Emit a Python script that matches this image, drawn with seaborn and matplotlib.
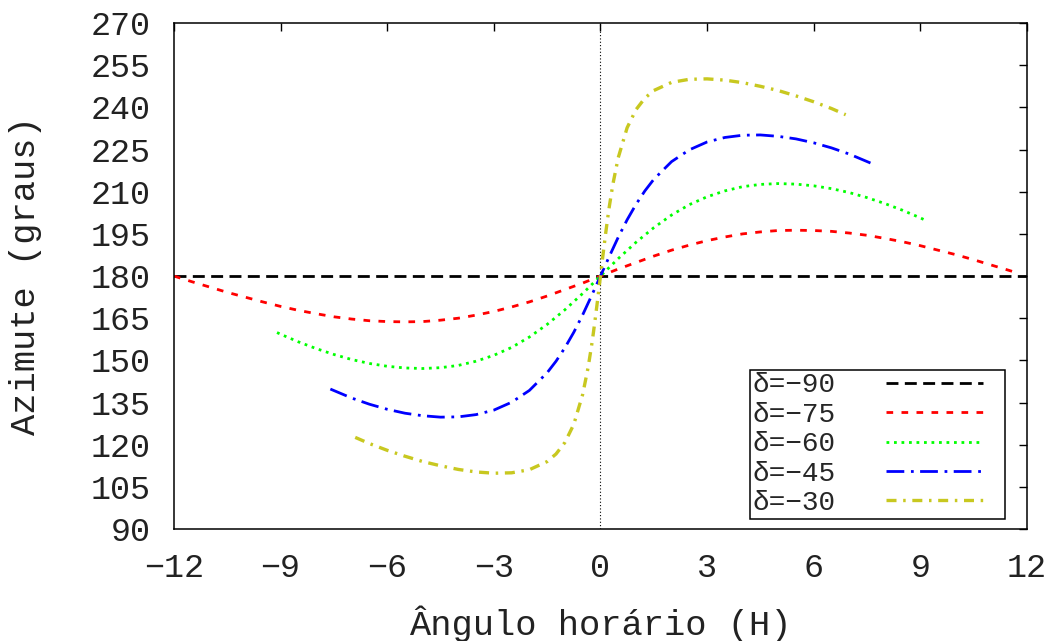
import pandas as pd
import seaborn as sns
import matplotlib.pyplot as plt
from matplotlib.lines import Line2D
from matplotlib.legend_handler import HandlerLine2D

# hour angle (h) and azimuth (degrees) for each declination
h_90 = [-12, 12]
az_90 = [180, 180]

h_75 = [-12, -11.5, -11, -10.5, -10, -9.5, -9, -8.5, -8, -7.5, -7, -6.5, -6, -5.5, -5,
        -4.5, -4, -3.5, -3, -2.5, -2, -1.5, -1, -0.5, 0, 0.5, 1, 1.5, 2, 2.5, 3, 3.5,
        4, 4.5, 5, 5.5, 6, 6.5, 7, 7.5, 8, 8.5, 9, 9.5, 10, 10.5, 11, 11.5, 11.75]
az_75 = [180.0, 178.0, 176.1, 174.2, 172.5, 170.8, 169.2, 167.8, 166.6, 165.5, 164.7,
         164.1, 163.8, 163.7, 163.8, 164.3, 165.0, 166.1, 167.4, 169.0, 170.8, 172.9,
         175.2, 177.5, 180.0, 182.5, 184.8, 187.1, 189.2, 191.0, 192.6, 193.9, 195.0,
         195.7, 196.2, 196.3, 196.2, 195.9, 195.3, 194.5, 193.4, 192.2, 190.8, 189.2,
         187.6, 185.8, 183.9, 182.0, 181.0]

h_60 = [-9.1, -9, -8.5, -8, -7.5, -7, -6.5, -6, -5.5, -5, -4.5, -4, -3.5, -3, -2.5, -2,
        -1.5, -1, -0.5, 0, 0.5, 1, 1.5, 2, 2.5, 3, 3.5, 4, 4.5, 5, 5.5, 6, 6.5, 7, 7.5,
        8, 8.5, 9, 9.1]
az_60 = [159.9, 159.3, 156.6, 154.2, 152.1, 150.3, 148.9, 147.9, 147.3, 147.1, 147.4,
         148.2, 149.7, 151.8, 154.6, 158.3, 162.8, 168.0, 173.8, 180.0, 186.2, 192.0,
         197.2, 201.7, 205.4, 208.2, 210.3, 211.8, 212.6, 212.9, 212.7, 212.1, 211.1,
         209.7, 207.9, 205.8, 203.4, 200.7, 200.1]

h_45 = [-7.6, -7, -6.5, -6, -5.5, -5, -4.5, -4, -3.5, -3, -2.5, -2, -1.5, -1.25, -1,
        -0.75, -0.5, -0.25, -0.1, 0, 0.1, 0.25, 0.5, 0.75, 1, 1.25, 1.5, 2, 2.5, 3, 3.5,
        4, 4.5, 5, 5.5, 6, 6.5, 7, 7.6]
az_45 = [139.8, 136.6, 134.4, 132.6, 131.2, 130.3, 129.8, 129.9, 130.7, 132.3, 135.1,
         139.3, 145.6, 149.7, 154.5, 160.0, 166.2, 173.0, 177.2, 180.0, 182.8, 187.0,
         193.8, 200.0, 205.5, 210.3, 214.4, 220.7, 224.9, 227.7, 229.3, 230.1, 230.2,
         229.7, 228.8, 227.4, 225.6, 223.4, 220.2]

h_30 = [-6.9, -6.5, -6, -5.5, -5, -4.5, -4, -3.5, -3, -2.5, -2, -1.5, -1.25, -1, -0.75,
        -0.5, -0.35, -0.25, -0.2, -0.15, -0.1, -0.05, 0, 0.05, 0.1, 0.15, 0.2, 0.25,
        0.35, 0.5, 0.75, 1, 1.25, 1.5, 2, 2.5, 3, 3.5, 4, 4.5, 5, 5.5, 6, 6.5, 6.9]
az_30 = [122.6, 120.4, 118.0, 115.9, 114.0, 112.5, 111.2, 110.3, 109.85, 110.0, 111.1,
         114.0, 116.7, 120.8, 127.25, 137.9, 147.3, 155.2, 159.7, 164.5, 169.5, 174.7,
         180.0, 185.3, 190.5, 195.5, 200.3, 204.8, 212.7, 222.1, 232.75, 239.2, 243.3,
         246.0, 248.9, 250.0, 250.15, 249.7, 248.8, 247.5, 246.0, 244.1, 242.0, 239.6,
         237.4]

series = [
    ("\u03b4=\u221290", h_90, az_90, "#000000", 2.0, (4.3, 2.3)),
    ("\u03b4=\u221275", h_75, az_75, "#ff0000", 2.0, (2.4, 3.0)),
    ("\u03b4=\u221260", h_60, az_60, "#00ff00", 2.0, (1.0, 1.7)),
    ("\u03b4=\u221245", h_45, az_45, "#0000ff", 2.0, (6.4, 2.4, 1.0, 2.3)),
    ("\u03b4=\u221230", h_30, az_30, "#c8c820", 2.4, (3.0, 2.0, 0.75, 2.0)),
]


class ShortLine(HandlerLine2D):
    # gnuplot leaves some room right of the sample line
    def create_artists(self, legend, orig_handle, xdescent, ydescent, width, height,
                       fontsize, trans):
        return super().create_artists(legend, orig_handle, xdescent, ydescent,
                                      width * 0.836, height, fontsize, trans)


sns.set_theme(style="white")
plt.rcParams["font.family"] = ["Liberation Mono", "DejaVu Sans"]

fig, ax = plt.subplots(figsize=(10.62, 6.41), dpi=100)
fig.subplots_adjust(left=0.1638, right=0.967, bottom=0.1747, top=0.964)

ax.axvline(0, color="black", lw=0.8, linestyle=(0, (1, 2)), zorder=1)

for label, h, az, color, lw, dash in series:
    df = pd.DataFrame({"H": h, "Az": az})
    sns.lineplot(data=df, x="H", y="Az", ax=ax, color=color, lw=lw,
                 linestyle=(0, dash), sort=False, estimator=None, label=label)

ax.set_xlim(-12, 12)
ax.set_ylim(90, 270)
ax.set_xticks(range(-12, 13, 3))
ax.set_yticks(range(90, 271, 15))
ax.tick_params(direction="in", length=5.8, width=1, top=True, right=True,
               labelsize=24, pad=17, colors="#222222")
ax.tick_params(color="black")
for sp in ax.spines.values():
    sp.set_color("black")
    sp.set_linewidth(1.1)

ax.set_xlabel("Ângulo horário (H)", fontsize=25.5, labelpad=16, color="#222222")
ax.set_ylabel("Azimute (graus)", fontsize=25.5, labelpad=35, color="#222222")

handles, labels = ax.get_legend_handles_labels()
leg = ax.legend(handles, labels, loc="lower right", bbox_to_anchor=(0.9742, 0.0198),
                markerfirst=False, fontsize=20, handlelength=4.17, handletextpad=1.83,
                labelspacing=0.125, borderpad=0.1, borderaxespad=0,
                fancybox=False, framealpha=1, edgecolor="black",
                handler_map={Line2D: ShortLine()})
leg.get_frame().set_linewidth(1.1)

plt.savefig("out.png", dpi=100)
